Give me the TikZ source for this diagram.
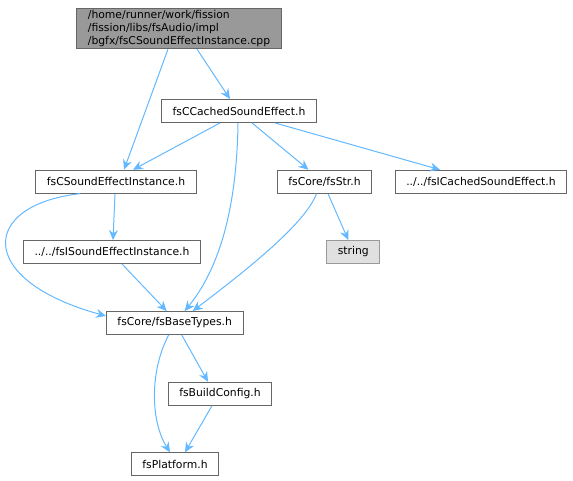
\documentclass[tikz,border=0pt]{standalone}
\usepackage{fontspec}
\setmainfont{DejaVu Sans}
\usetikzlibrary{arrows.meta}
\definecolor{edgeblue}{HTML}{63B8FF}
\definecolor{boxline}{HTML}{666666}
\definecolor{rootfill}{HTML}{999999}
\definecolor{extfill}{HTML}{E0E0E0}
\definecolor{extline}{HTML}{999999}
\begin{document}
\begin{tikzpicture}[x=1pt, y=-1pt, font=\fontsize{10.8}{13}\selectfont,
    file/.style={draw=boxline, fill=white, line width=0.9pt, minimum height=23pt, inner xsep=11pt, inner ysep=2pt},
    rootfile/.style={file, fill=rootfill, align=left},
    extfile/.style={file, draw=extline, fill=extfill},
    dep/.style={draw=edgeblue, line width=1pt, -{Stealth[length=10pt,width=9pt]}}]
    \useasboundingbox (0,0) rectangle (573,481);
    % files
    \node[rootfile] (root) at (179,28.5) {/home/runner/work/fission\\/fission/libs/fsAudio/impl\\/bgfx/fsCSoundEffectInstance.cpp};
    \node[file] (cached) at (239,111) {fsCCachedSoundEffect.h};
    \node[file] (inst) at (116,181.7) {fsCSoundEffectInstance.h};
    \node[file] (str) at (324.5,181.7) {fsCore/fsStr.h};
    \node[file] (icached) at (481,181.7) {../../fsICachedSoundEffect.h};
    \node[extfile] (string) at (353.3,252) {string};
    \node[file] (iinst) at (112,252) {../../fsISoundEffectInstance.h};
    \node[file] (base) at (174.7,323) {fsCore/fsBaseTypes.h};
    \node[file] (build) at (220,393.7) {fsBuildConfig.h};
    \node[file] (platform) at (175,464.3) {fsPlatform.h};
    % includes
    \draw[dep] ([xshift=-11pt]root.south) -- ([xshift=8pt]inst.north);
    \draw[dep] ([xshift=18pt]root.south) -- ([xshift=-9pt]cached.north);
    \draw[dep] ([xshift=-19pt]cached.south) -- ([xshift=17pt]inst.north);
    \draw[dep] ([xshift=13pt]cached.south) -- ([xshift=-16pt]str.north);
    \draw[dep] ([xshift=36pt]cached.south) -- ([xshift=-41pt]icached.north);
    \draw[dep] ([xshift=-1pt]cached.south) .. controls (237,190) and (226,260) .. ([xshift=10pt]base.north);
    \draw[dep] ([xshift=-36pt]inst.south) .. controls (-20,205) and (-25,280) .. ([yshift=7pt]base.west);
    \draw[dep] ([xshift=-1pt]inst.south) -- ([xshift=1pt]iinst.north);
    \draw[dep] ([xshift=3.5pt]str.south) -- ([xshift=-5pt]string.north);
    \draw[dep] ([xshift=-8pt]str.south) .. controls (305,225) and (240,275) .. ([xshift=18pt]base.north);
    \draw[dep] ([xshift=10pt]iinst.south) -- ([xshift=-8pt]base.north);
    \draw[dep] ([xshift=-6pt]base.south) .. controls (150,370) and (150,420) .. ([xshift=-5pt]platform.north);
    \draw[dep] ([xshift=7pt]base.south) -- ([xshift=-12pt]build.north);
    \draw[dep] ([xshift=-8pt]build.south) -- ([xshift=10pt]platform.north);
\end{tikzpicture}
\end{document}
